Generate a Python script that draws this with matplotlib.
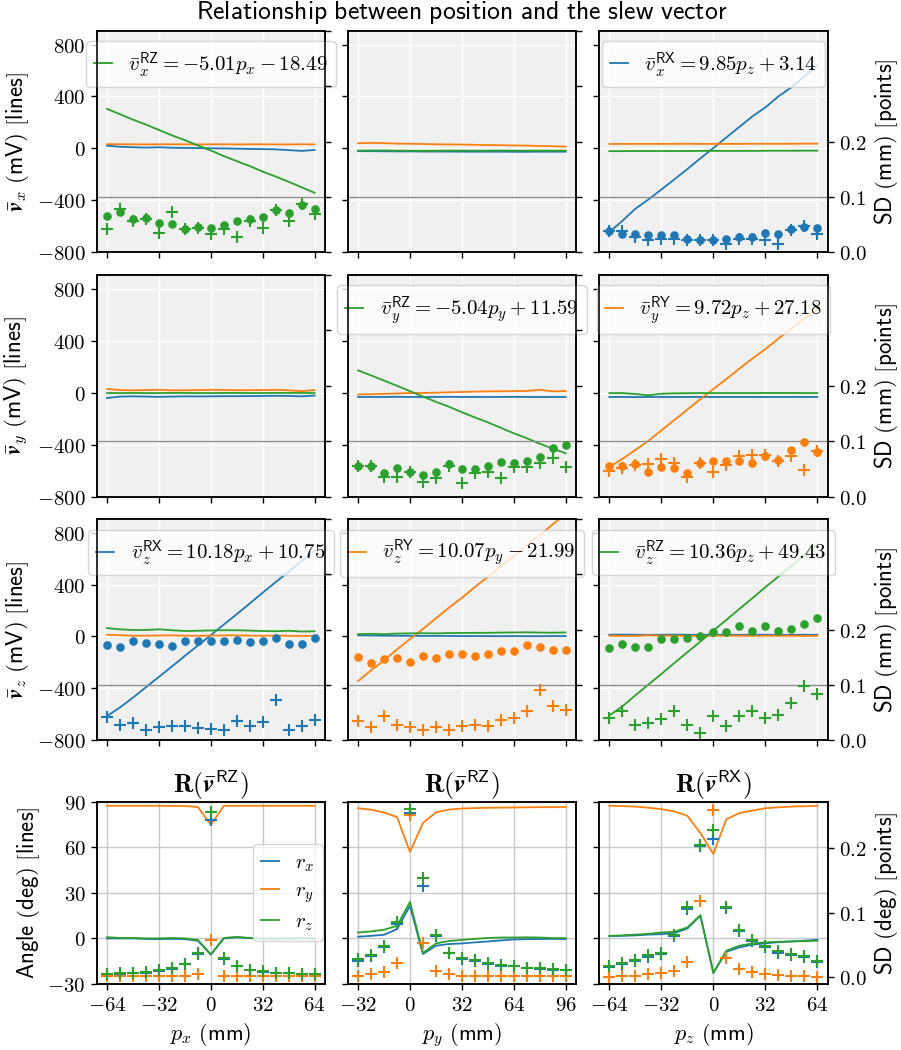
import matplotlib
matplotlib.use("Agg")
import matplotlib.pyplot as plt
import matplotlib.mathtext as mtext
from matplotlib.font_manager import FontProperties
from matplotlib.ticker import FuncFormatter, NullLocator

# ---------------- data ----------------
pos_x = [-64, -56, -48, -40, -32, -24, -16, -8, 0, 8, 16, 24, 32, 40, 48, 56, 64]
pos_y = [-32, -24, -16, -8, 0, 8, 16, 24, 32, 40, 48, 56, 64, 72, 80, 88, 96]
pos_z = [-64, -56, -48, -40, -32, -24, -16, -8, 0, 8, 16, 24, 32, 40, 48, 56, 64]

# slew vector component (mV) for RX (blue), RY (orange), RZ (green)
vx_px_RX = [20, 12, 8, 5, 8, 4, 3, 2, 0, -1, -3, -5, -6, -8, -14, -20, -13]
vx_px_RY = [32, 31, 31, 30, 31, 31, 31, 30, 31, 31, 30, 31, 31, 30, 30, 31, 30]
vx_px_RZ = [304, 263, 221, 183, 141, 100, 63, 22, -17, -60, -99, -137, -180, -218, -258, -301, -343]
vx_py_RX = [-22, -22, -23, -24, -24, -25, -25, -25, -26, -26, -26, -26, -27, -27, -26, -26, -26]
vx_py_RY = [39, 42, 40, 36, 35, 33, 31, 30, 29, 27, 25, 24, 22, 21, 18, 16, 13]
vx_py_RZ = [-18, -17, -17, -18, -19, -19, -19, -18, -18, -18, -18, -17, -18, -18, -18, -18, -18]
vx_pz_RX = [-645, -560, -466, -395, -318, -240, -160, -78, 2, 84, 165, 246, 315, 400, 470, 555, 640]
vx_pz_RY = [33, 34, 34, 34, 34, 34, 35, 34, 34, 34, 34, 35, 35, 35, 35, 36, 36]
vx_pz_RZ = [-22, -22, -21, -21, -21, -21, -21, -20, -20, -20, -20, -20, -19, -19, -19, -18, -18]

vy_px_RX = [-41, -30, -28, -30, -32, -30, -28, -29, -28, -27, -27, -26, -25, -24, -25, -28, -22]
vy_px_RY = [28, 20, 18, 20, 22, 18, 18, 20, 22, 20, 19, 19, 20, 22, 18, 12, 20]
vy_px_RZ = [-3, -3, -2, -3, -3, -2, -2, -3, -3, -2, -2, -3, -3, -2, -2, -2, -3]
vy_py_RX = [-33, -33, -33, -32, -33, -33, -33, -32, -33, -33, -33, -33, -32, -33, -33, -33, -33]
vy_py_RY = [-13, -12, -9, -6, -3, -2, 0, 3, 5, 8, 10, 11, 12, 13, 22, 10, 13]
vy_py_RZ = [171, 133, 93, 53, 12, -30, -70, -108, -150, -190, -228, -270, -312, -350, -392, -430, -466]
vy_pz_RX = [-33, -33, -34, -33, -33, -33, -33, -33, -33, -33, -33, -33, -33, -33, -33, -33, -33]
vy_pz_RY = [-570, -510, -440, -370, -290, -210, -130, -50, 28, 105, 185, 262, 335, 415, 492, 570, 642]
vy_pz_RZ = [-3, -3, -10, -20, -8, -5, -4, -3, -3, -3, -3, -3, -2, -2, -2, -3, -3]

vz_px_RX = [-615, -548, -472, -392, -312, -232, -150, -70, 10, 92, 172, 255, 338, 420, 500, 582, 662]
vz_px_RY = [13, 10, 5, 6, 7, 8, 6, 5, 7, 8, 8, 6, 5, 7, 5, 4, 5]
vz_px_RZ = [64, 55, 50, 50, 55, 48, 42, 44, 46, 48, 48, 45, 42, 40, 44, 38, 40]
vz_py_RX = [8, 7, 6, 5, 5, 4, 4, 4, 3, 3, 3, 2, 3, 2, 2, 3, 3]
vz_py_RY = [-344, -262, -185, -100, -20, 58, 140, 222, 298, 382, 460, 543, 620, 705, 782, 866, 945]
vz_py_RZ = [18, 20, 18, 22, 24, 25, 24, 26, 27, 28, 28, 30, 31, 32, 30, 29, 31]
vz_pz_RX = [13, 14, 13, 12, 13, 14, 13, 12, 13, 13, 12, 13, 13, 12, 12, 13, 12]
vz_pz_RY = [5, 4, 5, 8, 6, 5, 4, 5, 5, 6, 5, 4, 5, 5, 5, 4, 5]
vz_pz_RZ = [-610, -540, -455, -372, -290, -205, -122, -40, 45, 128, 212, 295, 380, 462, 545, 628, 710]

# standard deviations (mm) of the fitted component: dots and pluses
sd_vx_px_dot = [0.065, 0.072, 0.059, 0.062, 0.053, 0.050, 0.042, 0.045, 0.044, 0.048, 0.056, 0.059, 0.064, 0.076, 0.071, 0.085, 0.077]
sd_vx_px_plus = [0.041, 0.078, 0.056, 0.060, 0.035, 0.072, 0.041, 0.044, 0.033, 0.041, 0.028, 0.056, 0.044, 0.076, 0.056, 0.087, 0.068]
sd_vx_pz_dot = [0.038, 0.033, 0.033, 0.030, 0.030, 0.030, 0.024, 0.021, 0.022, 0.024, 0.027, 0.028, 0.035, 0.032, 0.041, 0.045, 0.043]
sd_vx_pz_plus = [0.038, 0.038, 0.028, 0.022, 0.024, 0.024, 0.022, 0.021, 0.022, 0.015, 0.024, 0.024, 0.021, 0.015, 0.039, 0.047, 0.032]
sd_vy_py_dot = [0.055, 0.056, 0.042, 0.052, 0.044, 0.039, 0.044, 0.059, 0.050, 0.050, 0.056, 0.062, 0.061, 0.064, 0.072, 0.087, 0.093]
sd_vy_py_plus = [0.055, 0.055, 0.036, 0.036, 0.044, 0.027, 0.033, 0.055, 0.024, 0.042, 0.045, 0.033, 0.053, 0.053, 0.061, 0.070, 0.053]
sd_vy_pz_dot = [0.055, 0.055, 0.059, 0.045, 0.053, 0.052, 0.042, 0.061, 0.064, 0.065, 0.065, 0.061, 0.074, 0.067, 0.084, 0.098, 0.081]
sd_vy_pz_plus = [0.047, 0.052, 0.058, 0.059, 0.068, 0.061, 0.036, 0.061, 0.045, 0.058, 0.074, 0.076, 0.076, 0.065, 0.073, 0.048, 0.082]
sd_vz_px_dot = [0.172, 0.169, 0.179, 0.175, 0.174, 0.171, 0.180, 0.180, 0.180, 0.180, 0.181, 0.178, 0.180, 0.185, 0.174, 0.174, 0.184]
sd_vz_px_plus = [0.042, 0.028, 0.031, 0.018, 0.023, 0.025, 0.026, 0.021, 0.020, 0.018, 0.035, 0.025, 0.032, 0.072, 0.018, 0.026, 0.036]
sd_vz_py_dot = [0.150, 0.139, 0.147, 0.148, 0.142, 0.152, 0.148, 0.155, 0.155, 0.152, 0.156, 0.161, 0.161, 0.173, 0.169, 0.164, 0.163]
sd_vz_py_plus = [0.034, 0.023, 0.043, 0.028, 0.023, 0.018, 0.023, 0.018, 0.026, 0.028, 0.026, 0.037, 0.040, 0.052, 0.091, 0.061, 0.054]
sd_vz_pz_dot = [0.167, 0.174, 0.169, 0.169, 0.183, 0.183, 0.184, 0.189, 0.196, 0.195, 0.206, 0.198, 0.207, 0.198, 0.201, 0.210, 0.221]
sd_vz_pz_plus = [0.040, 0.053, 0.028, 0.031, 0.038, 0.053, 0.028, 0.012, 0.044, 0.026, 0.043, 0.053, 0.040, 0.046, 0.067, 0.098, 0.083]

# rotation angles (deg) and their SD (deg)
ang_px_rx = [0, 0, 0, -0.3, -0.5, -0.3, -0.5, -1.5, -10.7, 0, 0.7, 0.2, -0.2, -0.3, -0.2, 0, -0.3]
ang_px_ry = [87.3, 87.3, 87.3, 87.3, 87.3, 87.2, 87.2, 86.5, 74.8, 87.3, 87.3, 87.3, 87.3, 87.3, 87.3, 87.3, 87.3]
ang_px_rz = [0.8, 0.3, 0.3, 0, 0, 0.3, 0, -1.0, -10.5, 0.3, 1.0, 0.3, 0, 0, 0.2, 0.2, 0.3]
ang_py_rx = [1.1, 1.7, 2.4, 6.1, 21.4, -10.3, -4.8, -3.7, -3.3, -2.6, -2.0, -1.3, -0.7, -0.5, -0.4, -0.3, -0.4]
ang_py_ry = [85.7, 84.7, 82.9, 79.9, 57.0, 76.0, 83.0, 84.8, 85.5, 85.8, 86.0, 86.1, 86.2, 86.3, 86.4, 86.4, 86.6]
ang_py_rz = [3.9, 4.6, 5.7, 8.3, 24.0, -9.6, -3.3, -1.7, -1.0, -0.3, 0.3, 0.6, 0.6, 0.7, 0.6, 0.2, 0.2]
ang_pz_rx = [1.5, 1.7, 2.0, 2.5, 2.8, 3.5, 6.5, 15.0, -22.7, -8.8, -5.9, -4.1, -3.2, -2.5, -2.0, -1.5, -0.9]
ang_pz_ry = [87.3, 87.1, 86.8, 86.0, 85.1, 83.6, 80.7, 69.4, 55.6, 78.5, 82.5, 84.2, 85.7, 86.3, 86.8, 87.0, 87.3]
ang_pz_rz = [1.7, 2.0, 2.5, 3.0, 3.9, 4.4, 7.2, 15.3, -22.7, -8.1, -4.8, -3.3, -2.6, -2.2, -2.0, -1.8, -1.5]

sdang_px_rx = [0.004, 0.005, 0.006, 0.007, 0.010, 0.013, 0.020, 0.036, 0.243, 0.029, 0.017, 0.011, 0.008, 0.006, 0.006, 0.005, 0.004]
sdang_px_ry = [0.0015, 0.0015, 0.0015, 0.0015, 0.0015, 0.0015, 0.0025, 0.005, 0.058, 0.0015, 0.0015, 0.0015, 0.0015, 0.0015, 0.0015, 0.0015, 0.0015]
sdang_px_rz = [0.0051, 0.0062, 0.0072, 0.0082, 0.0108, 0.0138, 0.021, 0.0374, 0.2554, 0.0297, 0.0179, 0.0118, 0.0092, 0.0067, 0.0067, 0.0056, 0.0051]
sdang_py_rx = [0.025, 0.033, 0.047, 0.083, 0.254, 0.141, 0.063, 0.037, 0.029, 0.025, 0.021, 0.018, 0.017, 0.014, 0.013, 0.012, 0.011]
sdang_py_ry = [0.0026, 0.0056, 0.0077, 0.022, 0.250, 0.053, 0.010, 0.0056, 0.0015, 0.0015, 0.0015, 0.0015, 0.0015, 0.0015, 0.0015, 0.0015, 0.0015]
sdang_py_rz = [0.028, 0.035, 0.048, 0.085, 0.259, 0.153, 0.066, 0.038, 0.030, 0.026, 0.022, 0.019, 0.018, 0.015, 0.014, 0.013, 0.012]
sdang_pz_rx = [0.016, 0.020, 0.025, 0.032, 0.036, 0.064, 0.106, 0.202, 0.214, 0.107, 0.071, 0.056, 0.047, 0.038, 0.034, 0.031, 0.024]
sdang_pz_ry = [0.0, 0.0015, 0.0026, 0.0056, 0.0067, 0.009, 0.023, 0.118, 0.258, 0.030, 0.013, 0.0077, 0.0056, 0.004, 0.0026, 0.0015, 0.0]
sdang_pz_rz = [0.018, 0.022, 0.026, 0.034, 0.037, 0.066, 0.108, 0.204, 0.227, 0.109, 0.073, 0.058, 0.048, 0.040, 0.036, 0.033, 0.025]

fit_labels = {
    (0, 0): r"$\bar{v}_x^{\mathsf{RZ}} = {-}5.01p_x - 18.49$",
    (0, 2): r"$\bar{v}_x^{\mathsf{RX}} = 9.85p_z + 3.14$",
    (1, 1): r"$\bar{v}_y^{\mathsf{RZ}} = {-}5.04p_y + 11.59$",
    (1, 2): r"$\bar{v}_y^{\mathsf{RY}} = 9.72p_z + 27.18$",
    (2, 0): r"$\bar{v}_z^{\mathsf{RX}} = 10.18p_x + 10.75$",
    (2, 1): r"$\bar{v}_z^{\mathsf{RY}} = 10.07p_y - 21.99$",
    (2, 2): r"$\bar{v}_z^{\mathsf{RZ}} = 10.36p_z + 49.43$",
}

# ---------------- style ----------------
plt.rcParams.update({
    "mathtext.fontset": "cm",
    "font.size": 15,
    "axes.linewidth": 1.1,
    "xtick.major.size": 4.5,
    "ytick.major.size": 4.5,
    "xtick.major.width": 1.0,
    "ytick.major.width": 1.0,
    "legend.handlelength": 0.85,
    "lines.linewidth": 1.3,
})

try:
    mtext.MathTextParser("agg").parse(r"$\boldsymbol{v}$", dpi=72, prop=FontProperties())
    BV = r"\boldsymbol{v}"
except Exception:
    BV = r"\mathbf{v}"


def sf(s):
    return r"\mathsf{" + s.replace(" ", r"\ ") + "}"


LABEL_FS = 16.5
C = ["#1f77b4", "#ff7f0e", "#2ca02c"]
W, H = 901, 1050
fig = plt.figure(figsize=(W / 100, H / 100), dpi=100)

cols_px = [(96.7, 325.0), (347.7, 576.0), (599.0, 827.7)]
rows_px = [(31.0, 252.0), (275.0, 496.7), (519.3, 740.0), (801.7, 984.0)]


def rect(c, r):
    l, rr = cols_px[c]
    t, b = rows_px[r]
    return [l / W, 1 - b / H, (rr - l) / W, (b - t) / H]


positions = [pos_x, pos_y, pos_z]
pos_names = ["x", "y", "z"]
xticks = [[-64, -32, 0, 32, 64], [-32, 0, 32, 64, 96], [-64, -32, 0, 32, 64]]

vlines = [
    [[vx_px_RX, vx_px_RY, vx_px_RZ], [vx_py_RX, vx_py_RY, vx_py_RZ], [vx_pz_RX, vx_pz_RY, vx_pz_RZ]],
    [[vy_px_RX, vy_px_RY, vy_px_RZ], [vy_py_RX, vy_py_RY, vy_py_RZ], [vy_pz_RX, vy_pz_RY, vy_pz_RZ]],
    [[vz_px_RX, vz_px_RY, vz_px_RZ], [vz_py_RX, vz_py_RY, vz_py_RZ], [vz_pz_RX, vz_pz_RY, vz_pz_RZ]],
]
sd_points = {
    (0, 0): (2, sd_vx_px_dot, sd_vx_px_plus),
    (0, 2): (0, sd_vx_pz_dot, sd_vx_pz_plus),
    (1, 1): (2, sd_vy_py_dot, sd_vy_py_plus),
    (1, 2): (1, sd_vy_pz_dot, sd_vy_pz_plus),
    (2, 0): (0, sd_vz_px_dot, sd_vz_px_plus),
    (2, 1): (1, sd_vz_py_dot, sd_vz_py_plus),
    (2, 2): (2, sd_vz_pz_dot, sd_vz_pz_plus),
}
int_fmt = FuncFormatter(lambda v, p: "$%d$" % int(round(v)))
dec_fmt = FuncFormatter(lambda v, p: "$%.1f$" % v)

for r in range(3):
    for c in range(3):
        ax = fig.add_axes(rect(c, r))
        ax.set_facecolor("#f0f0f0")
        ax.set_axisbelow(True)
        ax.grid(True, color="white", lw=1.0)
        xs = positions[c]
        handles = []
        for k in range(3):
            ln, = ax.plot(xs, vlines[r][c][k], color=C[k], lw=1.3)
            handles.append(ln)
        ax.set_ylim(-800, 905)
        ax.set_xlim(xs[0] - 0.05 * (xs[-1] - xs[0]), xs[-1] + 0.05 * (xs[-1] - xs[0]))
        ax.set_yticks([-800, -400, 0, 400, 800])
        ax.yaxis.set_major_formatter(int_fmt)
        ax.set_xticks(xticks[c])
        ax.tick_params(labelbottom=False, labelleft=(c == 0))
        for s in ax.spines.values():
            s.set_color("black")
        if c == 0:
            comp = ["x", "y", "z"][r]
            ax.set_ylabel(r"$\bar{%s}_%s\ %s$" % (BV, comp, sf("(mV) [lines]")), fontsize=LABEL_FS)
        ax2 = ax.twinx()
        ax2.set_ylim(0, 0.4)
        ax2.axhline(0.1, color="0.55", lw=0.9)
        if c == 2:
            ax2.set_yticks([0.0, 0.1, 0.2])
            ax2.yaxis.set_major_formatter(dec_fmt)
            ax2.set_ylabel(r"$%s$" % sf("SD (mm) [points]"), fontsize=LABEL_FS)
        else:
            ax2.set_yticks([0.0, 0.1, 0.2, 0.3, 0.4])
            ax2.tick_params(labelright=False)
        if (r, c) in sd_points:
            k, dots, plus = sd_points[(r, c)]
            ax2.plot(xs, dots, "o", color=C[k], ms=6.2, mew=0)
            ax2.plot(xs, plus, "+", color=C[k], ms=9, mew=1.5)
            ax.legend([handles[k]], [fit_labels[(r, c)]], loc="upper center",
                      fontsize=15, framealpha=0.8, edgecolor="0.8")

# ---------------- rotation row ----------------
angles = [[ang_px_rx, ang_px_ry, ang_px_rz], [ang_py_rx, ang_py_ry, ang_py_rz], [ang_pz_rx, ang_pz_ry, ang_pz_rz]]
sd_angles = [[sdang_px_rx, sdang_px_ry, sdang_px_rz], [sdang_py_rx, sdang_py_ry, sdang_py_rz],
             [sdang_pz_rx, sdang_pz_ry, sdang_pz_rz]]
titles = ["RZ", "RZ", "RX"]
for c in range(3):
    ax = fig.add_axes(rect(c, 3))
    ax.set_axisbelow(True)
    ax.grid(True, color="#c8c8c8", lw=1.0)
    xs = positions[c]
    hs = []
    for k in range(3):
        ln, = ax.plot(xs, angles[c][k], color=C[k], lw=1.3)
        hs.append(ln)
    ax.set_ylim(-30, 90)
    ax.set_yticks([-30, 0, 30, 60, 90])
    ax.yaxis.set_major_formatter(int_fmt)
    ax.set_xlim(xs[0] - 0.05 * (xs[-1] - xs[0]), xs[-1] + 0.05 * (xs[-1] - xs[0]))
    ax.set_xticks(xticks[c])
    ax.xaxis.set_major_formatter(int_fmt)
    ax.tick_params(labelleft=(c == 0))
    ax.set_xlabel(r"$p_%s\ %s$" % (pos_names[c], sf("(mm)")), fontsize=16)
    ax.set_title(r"$\mathbf{R}(\bar{%s}^{\mathsf{%s}})$" % (BV, titles[c]), fontsize=18.5)
    if c == 0:
        ax.set_ylabel(r"$%s$" % sf("Angle (deg) [lines]"), fontsize=LABEL_FS)
        ax.legend(hs, [r"$r_x$", r"$r_y$", r"$r_z$"], loc="center right",
                  borderaxespad=0.1, fontsize=15, labelspacing=0.3,
                  framealpha=0.8, edgecolor="0.8")
    ax2 = ax.twinx()
    for k in range(3):
        ax2.plot(xs, sd_angles[c][k], "+", color=C[k], ms=9, mew=1.5)
    ax2.set_ylim(-0.0103, 0.271)
    if c == 2:
        ax2.set_yticks([0.0, 0.1, 0.2])
        ax2.yaxis.set_major_formatter(dec_fmt)
        ax2.set_ylabel(r"$%s$" % sf("SD (deg) [points]"), fontsize=LABEL_FS)
    else:
        ax2.yaxis.set_major_locator(NullLocator())

fig.text(462 / W, 1 - 12 / H, r"$%s$" % sf("Relationship between position and the slew vector"),
         ha="center", va="center", fontsize=18.5)

fig.savefig("out.png", dpi=100)
